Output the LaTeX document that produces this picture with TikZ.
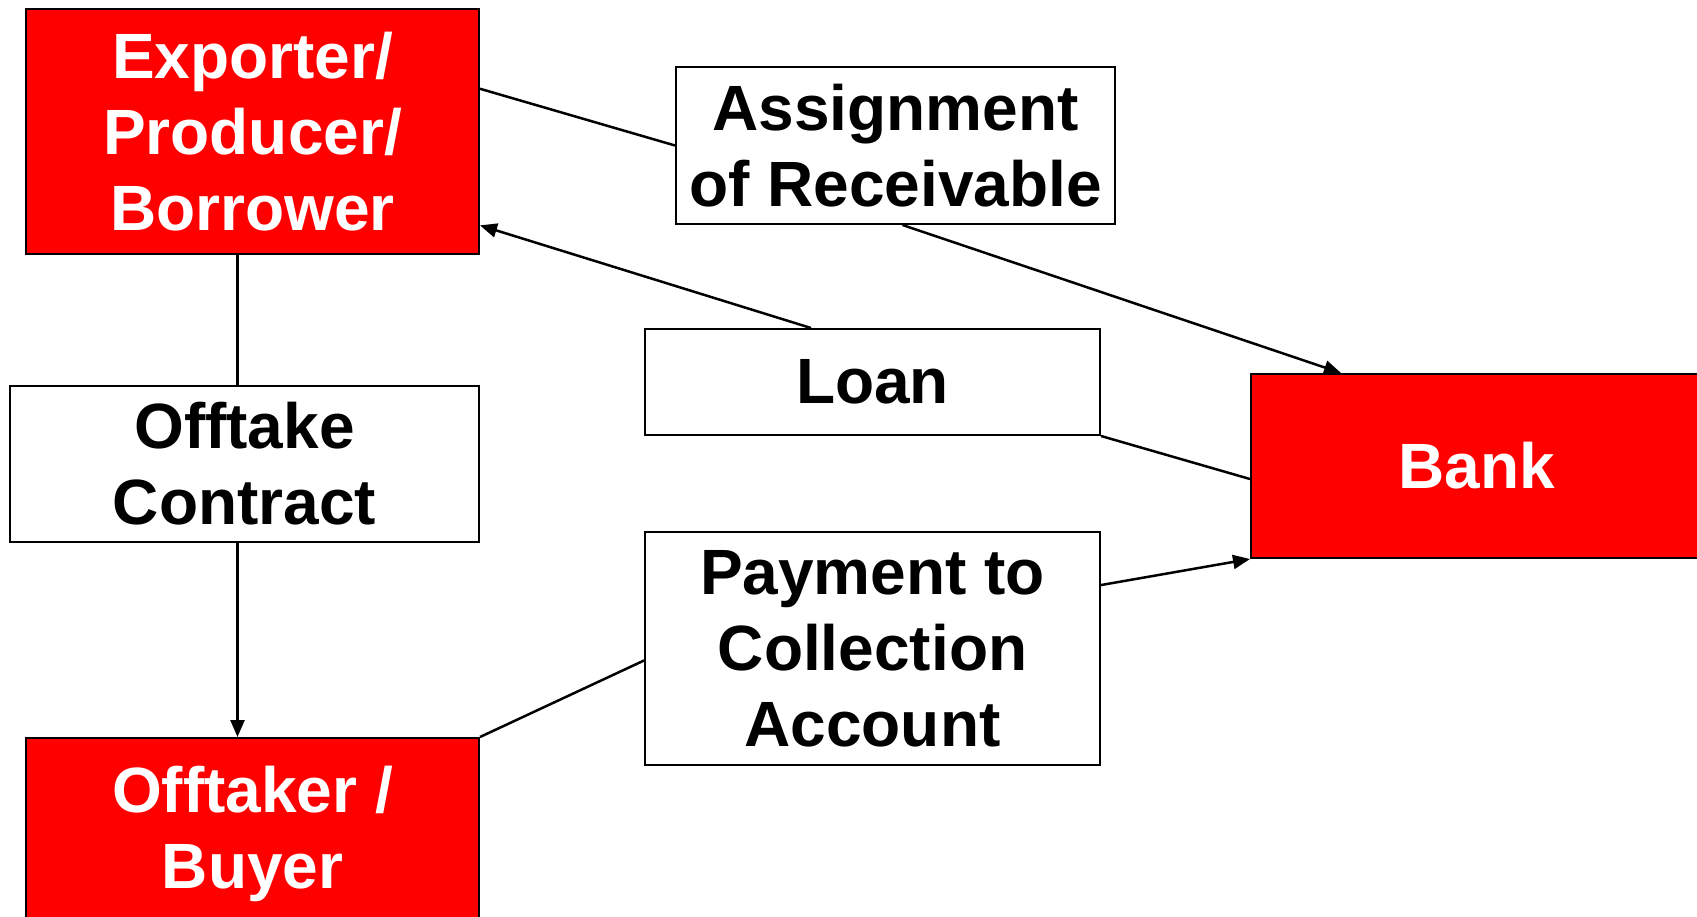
\documentclass[tikz,border=0pt]{standalone}
\usepackage{fontspec}
\setmainfont{Liberation Sans}
\usetikzlibrary{arrows.meta,calc}

\definecolor{boxred}{RGB}{255,0,0}

\tikzset{
  party/.style={draw=black, line width=2pt, fill=boxred, text=white, inner sep=0pt,
    align=center, font=\fontsize{64}{76}\selectfont\bfseries},
  flowbox/.style={draw=black, line width=2pt, fill=white, text=black, inner sep=0pt,
    align=center, font=\fontsize{64}{76}\selectfont\bfseries},
  link/.style={draw=black, line width=2.5pt},
  arrowlink/.style={link, -{Triangle[length=17pt,width=14pt]}}
}

\begin{document}
\begin{tikzpicture}[x=1pt, y=-1pt]
  \useasboundingbox (0,0) rectangle (1697,917);

  % parties
  \node[party, minimum width=453pt, minimum height=245pt] (exp) at (252.5,131.5)
    {Exporter/\\Producer/\\Borrower};
  \node[party, minimum width=453pt, minimum height=192pt] (buy) at (252.5,834)
    {Offtaker /\\Buyer};
  \node[party, minimum width=452pt, minimum height=184pt] (bank) at (1477,466)
    {Bank};

  % documents and flows
  \node[flowbox, minimum width=469pt, minimum height=156pt] (offc) at (244.5,464)
    {Offtake\\Contract};
  \node[flowbox, minimum width=439pt, minimum height=157pt] (asg) at (895.5,145.5)
    {Assignment\\of Receivable};
  \node[flowbox, minimum width=455pt, minimum height=106pt] (loan) at (872.5,382)
    {Loan};
  \node[flowbox, minimum width=455pt, minimum height=233pt] (pay) at (872.5,648.5)
    {Payment to\\Collection\\Account};

  % vertical contract chain
  \coordinate (vx) at ([xshift=-15pt]exp.south);
  \draw[link] (vx) -- (vx |- offc.north);
  \draw[arrowlink] (vx |- offc.south) -- (vx |- buy.north);

  % assignment of receivable to the bank
  \draw[link] ($(exp.north east)!0.327!(exp.south east)$) -- (asg.west);
  \draw[arrowlink] ([xshift=7pt]asg.south) -- ([xshift=91pt]bank.north west);

  % loan from the bank to the borrower
  \draw[link] (loan.south east) -- ($(bank.north west)!0.57!(bank.south west)$);
  \draw[arrowlink] ([xshift=167pt]loan.north west) -- ($(exp.north east)!0.88!(exp.south east)$);

  % buyer pays into the collection account
  \draw[link] (buy.north east) -- ([yshift=-12pt]pay.west);
  \draw[arrowlink] ($(pay.north east)!0.23!(pay.south east)$) -- (bank.south west);
\end{tikzpicture}
\end{document}
